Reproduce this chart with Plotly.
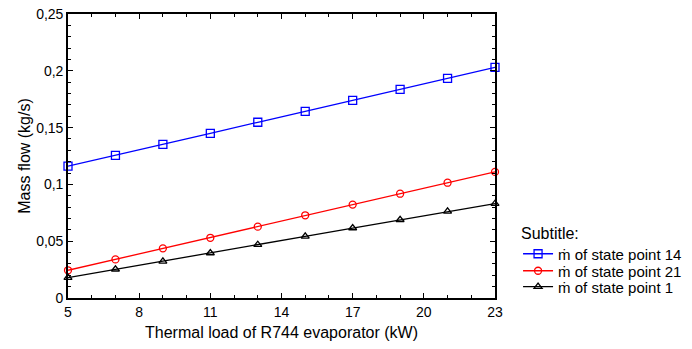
import plotly.graph_objects as go

# Thermal load of the R744 evaporator (kW)
load_kw = [5, 7, 9, 11, 13, 15, 17, 19, 21, 23]

# Mass flow (kg/s) at each state point
flow_sp14 = [0.116, 0.1255, 0.1352, 0.145, 0.1547, 0.1643, 0.174, 0.1837, 0.1934, 0.203]
flow_sp21 = [0.0244, 0.034, 0.0437, 0.053, 0.0628, 0.0728, 0.0822, 0.0918, 0.1015, 0.111]
flow_sp1 = [0.0179, 0.0253, 0.0323, 0.0396, 0.0469, 0.0543, 0.0616, 0.0689, 0.0763, 0.083]

series_names = ["ṁ of state point 14", "ṁ of state point 21", "ṁ of state point 1"]
series_values = [flow_sp14, flow_sp21, flow_sp1]
series_colors = ["#0000FF", "#FF0000", "#000000"]
series_symbols = ["square-open", "circle-open", "triangle-up-open"]
series_sizes = [8, 7, 7]
legend_ids = ["legend", "legend2", "legend3"]
legend_rows = [0.155, 0.095, 0.039]

x_ticks = [5, 8, 11, 14, 17, 20, 23]
y_ticks = [0, 0.05, 0.1, 0.15, 0.2, 0.25]
y_tick_labels = ["0", "0,05", "0,1", "0,15", "0,2", "0,25"]

FONT = "Arial, Liberation Sans, sans-serif"

fig = go.Figure()
for name, vals, col, sym, sz, lg in zip(series_names, series_values, series_colors,
                                        series_symbols, series_sizes, legend_ids):
    fig.add_trace(go.Scatter(
        x=load_kw, y=vals, name=name, mode="lines+markers", legend=lg,
        line=dict(color=col, width=1.3),
        marker=dict(symbol=sym, size=sz, color=col, line=dict(color=col, width=1.3)),
        cliponaxis=False,
    ))

axis_common = dict(
    showline=True, linecolor="black", linewidth=1.6, mirror="ticks",
    ticks="inside", ticklen=5, tickwidth=1, tickcolor="black",
    showgrid=False, zeroline=False,
    tickfont=dict(family=FONT, size=14, color="black"),
)

fig.update_xaxes(
    range=[5, 23], tickvals=x_ticks,
    title=dict(text="Thermal load of R744 evaporator (kW)",
               font=dict(family=FONT, size=16, color="black"), standoff=8),
    minor=dict(dtick=1, ticks="inside", ticklen=3, tickcolor="black", showgrid=False),
    **axis_common,
)
fig.update_yaxes(
    range=[0, 0.25], tickvals=y_ticks, ticktext=y_tick_labels,
    title=dict(text="Mass flow (kg/s)",
               font=dict(family=FONT, size=16, color="black"), standoff=2),
    minor=dict(dtick=0.01, ticks="inside", ticklen=3, tickcolor="black", showgrid=False),
    **axis_common,
)

legend_common = dict(
    font=dict(family=FONT, size=15, color="black"), x=1.054, xanchor="left",
    yanchor="middle", bgcolor="rgba(0,0,0,0)", itemwidth=30,
)
layout_legends = {lg: dict(y=yy, **legend_common) for lg, yy in zip(legend_ids, legend_rows)}

fig.update_layout(
    width=692, height=349,
    margin=dict(l=68, r=197, t=14, b=51, autoexpand=False),
    paper_bgcolor="white", plot_bgcolor="white",
    font=dict(family=FONT, color="black"),
    showlegend=True,
    annotations=[dict(
        text="Subtitle:", xref="paper", yref="paper", x=1.056, y=0.228,
        xanchor="left", yanchor="middle", showarrow=False,
        font=dict(family=FONT, size=16, color="black"),
    )],
    **layout_legends,
)

fig.write_html("out.html")
